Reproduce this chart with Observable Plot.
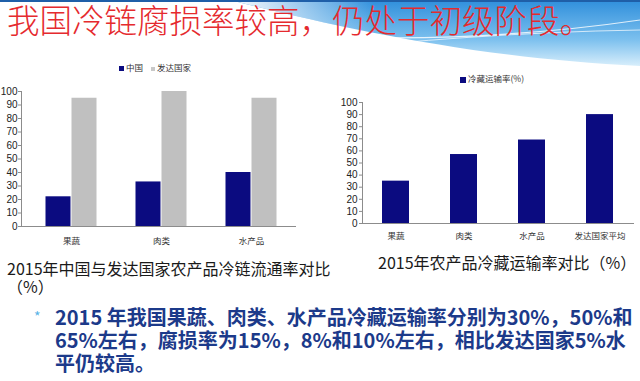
<!DOCTYPE html>
<html><head><meta charset="utf-8">
<script src="https://cdn.jsdelivr.net/npm/d3@7"></script>
<script src="https://cdn.jsdelivr.net/npm/@observablehq/plot@0.6"></script>
<style>
html,body{margin:0;padding:0;background:#fff;}
#page{position:relative;width:640px;height:381px;overflow:hidden;font-family:"Noto Sans CJK SC",sans-serif;}
.abs{position:absolute;white-space:nowrap;}
#title{left:7px;top:1px;font-size:32.5px;line-height:36px;color:#e52a2e;font-weight:300;}
.cap{font-size:16px;line-height:18px;color:#1a1a1a;}
.leg{font-size:8.5px;line-height:10px;color:#333;}
.sw{display:inline-block;vertical-align:middle;margin-right:2px;}
#body{left:55px;top:305px;font-size:20px;line-height:23px;font-weight:700;color:#1c3a8a;}
#bullet{left:34px;top:308px;font-size:14px;line-height:16px;color:#5ab4e6;}
</style></head>
<body><div id="page">
<svg class="abs" style="left:0;top:0" width="640" height="100">
  <defs>
    <linearGradient id="g1" x1="0" y1="0" x2="0" y2="1">
      <stop offset="0" stop-color="#2f8fdc"/>
      <stop offset="0.6" stop-color="#7cc0ee"/>
      <stop offset="1" stop-color="#d8eefb"/>
    </linearGradient>
    <linearGradient id="g2" x1="0" y1="0" x2="1" y2="0">
      <stop offset="0" stop-color="#ffffff" stop-opacity="1"/>
      <stop offset="0.35" stop-color="#ffffff" stop-opacity="0"/>
    </linearGradient>
  </defs>
  <path d="M230 0 C330 25 470 58 640 66 L640 0 Z" fill="url(#g1)"/>
  <path d="M230 0 C330 25 470 58 640 66 L640 0 Z" fill="url(#g2)"/>
  <path d="M150 28 C320 40 470 45 640 20" fill="none" stroke="#ffffff" stroke-width="1.2" opacity="0.8"/>
  <path d="M300 52 C420 40 520 32 640 30" fill="none" stroke="#ffffff" stroke-width="1" opacity="0.7"/>
  <rect x="0" y="0" width="640" height="2" fill="#1f5fa8"/>
</svg>
<div id="title" class="abs">我国冷链腐损率较高，仍处于初级阶段。</div>

<div class="abs leg" style="left:119px;top:62px"><span class="sw" style="width:5px;height:5px;background:#0b0b80"></span>中国 <span class="sw" style="width:4px;height:4px;background:#c8c8c8;margin-left:6px"></span>发达国家</div>
<div class="abs leg" style="left:460px;top:73px"><span class="sw" style="width:6px;height:6px;background:#0b0b80"></span>冷藏运输率(%)</div>

<div id="left" class="abs" style="left:0;top:80px"></div>
<div id="right" class="abs" style="left:330px;top:90px"></div>

<div class="abs cap" style="left:7px;top:259px">2015年中国与发达国家农产品冷链流通率对比</div>
<div class="abs cap" style="left:7px;top:277px">（%）</div>
<div class="abs cap" style="left:378px;top:253px">2015年农产品冷藏运输率对比（%）</div>

<div id="bullet" class="abs">*</div>
<div id="body" class="abs">2015 年我国果蔬、肉类、水产品冷藏运输率分别为30%，50%和<br>65%左右，腐损率为15%，8%和10%左右，相比发达国家5%水<br>平仍较高。</div>
</div>
<script>
const leftCategories = ["果蔬", "肉类", "水产品"];
const chinaRates = [22, 33, 40];
const developedRates = [95, 100, 95];
const rightCategories = ["果蔬", "肉类", "水产品", "发达国家平均"];
const coldTransportRates = [35, 57, 69, 90];
const yTicks = [0, 10, 20, 30, 40, 50, 60, 70, 80, 90, 100];

const navy = "#0b0b80";
const axisGray = "#8c8c8c";
const numFont = "'Liberation Sans Narrow', 'Liberation Sans', Arial, sans-serif";
const cjkFont = "'Noto Sans CJK SC', sans-serif";

const leftData = leftCategories.map((c, i) => ({category: c, china: chinaRates[i], developed: developedRates[i]}));
const rightData = rightCategories.map((c, i) => ({category: c, rate: coldTransportRates[i]}));

const leftChart = Plot.plot({
  width: 300, height: 170,
  marginLeft: 21, marginRight: 4, marginTop: 11, marginBottom: 24,
  style: {background: "transparent", color: "#222", fontFamily: numFont},
  x: {domain: leftCategories, range: [25.5, 295.5], padding: 0, axis: null, label: null},
  y: {domain: [0, 100], axis: null, label: null},
  marks: [
    Plot.barY(leftData, {x: "category", y: "china", fill: navy, insetLeft: 19.5, insetRight: 45.5}),
    Plot.barY(leftData, {x: "category", y: "developed", fill: "#c0c0c0", insetLeft: 45.5, insetRight: 19.5}),
    Plot.axisY({ticks: yTicks, label: null, tickSize: 3, tickPadding: 1, fontSize: 10, fontFamily: numFont, stroke: axisGray, fill: "#222"}),
    Plot.axisX({label: null, tickSize: 0, tickPadding: 11, fontSize: 8.5, fontFamily: cjkFont, fill: "#333"}),
    Plot.frame({anchor: "left", stroke: axisGray}),
    Plot.ruleY([0], {stroke: axisGray})
  ]
});
document.getElementById("left").appendChild(leftChart);

const rightChart = Plot.plot({
  width: 310, height: 160,
  marginLeft: 32, marginRight: 6, marginTop: 12, marginBottom: 27,
  style: {background: "transparent", color: "#222", fontFamily: numFont},
  x: {domain: rightCategories, paddingInner: 0.6, paddingOuter: 0.3, axis: null, label: null},
  y: {domain: [0, 100], axis: null, label: null},
  marks: [
    Plot.barY(rightData, {x: "category", y: "rate", fill: navy}),
    Plot.axisY({ticks: yTicks, label: null, tickSize: 3, tickPadding: 2, fontSize: 10, fontFamily: numFont, stroke: axisGray, fill: "#222"}),
    Plot.axisX({label: null, tickSize: 0, tickPadding: 9, fontSize: 8.5, fontFamily: cjkFont, fill: "#333"}),
    Plot.frame({anchor: "left", stroke: axisGray}),
    Plot.ruleY([0], {stroke: axisGray})
  ]
});
document.getElementById("right").appendChild(rightChart);
</script>
</body></html>
